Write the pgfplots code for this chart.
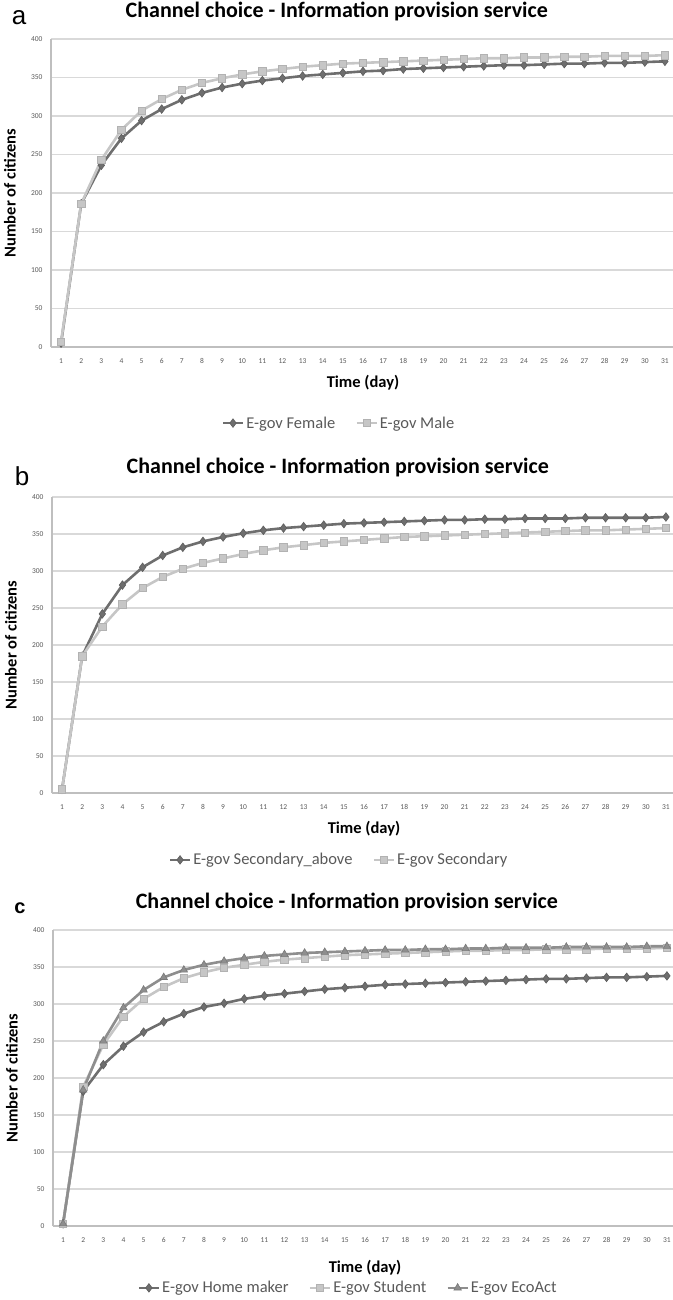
\documentclass[border=0pt]{standalone}
\usepackage{pgfplots}
\pgfplotsset{compat=1.18}
\usepackage{pgfplotstable}
\usepackage{fontspec}
\setmainfont{Carlito}
\newfontfamily\arialfont{Liberation Sans}
\definecolor{dk}{HTML}{6E6E6E}
\definecolor{lt}{HTML}{C6C6C6}
\definecolor{md}{HTML}{8E8E8E}
\definecolor{gridc}{HTML}{D9D9D9}
\definecolor{axc}{HTML}{BFBFBF}
\definecolor{txt}{HTML}{595959}

\pgfplotstableread{
day F M
1 5 7
2 186 186
3 236 243
4 271 282
5 294 307
6 309 322
7 321 334
8 330 343
9 337 349
10 342 354
11 346 358
12 349 361
13 352 364
14 354 366
15 356 368
16 358 369
17 359 370
18 361 371
19 362 372
20 363 373
21 364 374
22 365 375
23 366 375
24 366 376
25 367 376
26 368 377
27 368 377
28 369 378
29 369 378
30 370 378
31 371 379
}\tabA

\pgfplotstableread{
day A S
1 5 5
2 185 185
3 242 225
4 281 255
5 305 277
6 321 292
7 332 303
8 340 311
9 346 317
10 351 323
11 355 328
12 358 332
13 360 335
14 362 338
15 364 340
16 365 342
17 366 344
18 367 346
19 368 347
20 369 348
21 369 349
22 370 350
23 370 351
24 371 352
25 371 353
26 371 354
27 372 355
28 372 355
29 372 356
30 372 357
31 373 358
}\tabB

\pgfplotstableread{
day H S E
1 3 3 3
2 182 188 184
3 218 245 250
4 243 283 295
5 262 307 319
6 276 323 336
7 287 335 346
8 296 343 353
9 301 349 358
10 307 353 362
11 311 357 365
12 314 360 367
13 317 362 369
14 320 364 370
15 322 366 371
16 324 367 372
17 326 368 373
18 327 369 373
19 328 370 374
20 329 371 374
21 330 372 375
22 331 372 375
23 332 373 376
24 333 373 376
25 334 374 376
26 334 374 377
27 335 374 377
28 336 375 377
29 336 375 377
30 337 375 378
31 338 376 378
}\tabC

\pgfplotsset{
  panel/.style={
    scale only axis, width=624pt, height=296pt,
    xmin=0.5, xmax=31.5, ymin=0, ymax=400,
    xtick={1,...,31}, ytick={0,50,...,400},
    ymajorgrids, major grid style={gridc, line width=1.2pt},
    axis x line*=bottom, axis y line*=left,
    axis line style={-, axc, line width=1.2pt},
    major tick length=0pt,
    tick label style={font=\fontsize{7.5}{8}\selectfont, text=txt},
    /pgf/number format/assume math mode=true,
    xticklabel style={yshift=-8pt},
    yticklabel style={xshift=-5pt},
    title style={font=\fontsize{22}{24}\selectfont\bfseries, text=black, anchor=center},
    xlabel={Time (day)}, ylabel={Number of citizens},
    label style={font=\fontsize{16.5}{18}\selectfont\bfseries, text=black},
    legend style={draw=none, fill=none, legend columns=-1,
      font=\fontsize{16.5}{18}\selectfont, text=txt, anchor=center,
      /tikz/every even column/.append style={column sep=18pt}},
    legend image code/.code={\draw[mark repeat=2,mark phase=2] plot coordinates {(0pt,0pt)(10pt,0pt)(20pt,0pt)};},
    clip=false,
  },
  sdk/.style={dk, line width=2.6pt, mark=diamond*, mark size=4.3pt, mark options={fill=dk, draw=dk!85!black, line width=0.6pt}},
  slt/.style={lt, line width=2.6pt, mark=square*, mark size=3.7pt, mark options={fill=lt, draw=lt!90!black, line width=0.6pt}},
  smd/.style={md, line width=2.6pt, mark=triangle*, mark size=4.3pt, mark options={fill=md, draw=md!85!black, line width=0.6pt}},
}

\begin{document}
\begin{tikzpicture}[x=1pt,y=1pt]
\useasboundingbox (0,0) rectangle (672,-1300);

% Panel a
\begin{axis}[panel, at={(51pt,-347pt)}, anchor=south west, height=308pt,
  title={Channel choice - Information provision service},
  title style={at={(axis description cs:0.458,1.071)}},
  xlabel style={at={(axis description cs:0.5,-0.117)}, anchor=center},
  ylabel style={at={(axis description cs:-0.0657,0.5)}, anchor=center},
  legend style={at={(axis description cs:0.4615,-0.247)}},
]
\addplot[sdk] table[x=day,y=F] {\tabA};
\addlegendentry{E-gov Female}
\addplot[slt] table[x=day,y=M] {\tabA};
\addlegendentry{E-gov Male}
\node[font=\arialfont\fontsize{26}{28}\selectfont] at (axis description cs:-0.0513,1.068) {a};
\end{axis}

% Panel b
\begin{axis}[panel, at={(52pt,-793pt)}, anchor=south west,
  title={Channel choice - Information provision service},
  title style={at={(axis description cs:0.458,1.081)}},
  xlabel style={at={(axis description cs:0.5,-0.1216)}, anchor=center},
  ylabel style={at={(axis description cs:-0.0657,0.5)}, anchor=center},
  legend style={at={(axis description cs:0.46,-0.226)}},
]
\addplot[sdk] table[x=day,y=A] {\tabB};
\addlegendentry{E-gov Secondary\_above}
\addplot[slt] table[x=day,y=S] {\tabB};
\addlegendentry{E-gov Secondary}
\node[font=\arialfont\fontsize{26}{28}\selectfont] at (axis description cs:-0.048,1.071) {b};
\end{axis}

% Panel c
\begin{axis}[panel, at={(53pt,-1226pt)}, anchor=south west,
  title={Channel choice - Information provision service},
  title style={at={(axis description cs:0.471,1.074)}},
  xlabel style={at={(axis description cs:0.5,-0.142)}, anchor=center},
  ylabel style={at={(axis description cs:-0.0657,0.5)}, anchor=center},
  legend style={at={(axis description cs:0.473,-0.209)}},
]
\addplot[sdk] table[x=day,y=H] {\tabC};
\addlegendentry{E-gov Home maker}
\addplot[slt] table[x=day,y=S] {\tabC};
\addlegendentry{E-gov Student}
\addplot[smd] table[x=day,y=E] {\tabC};
\addlegendentry{E-gov EcoAct}
\node[font=\arialfont\bfseries\fontsize{20}{22}\selectfont] at (axis description cs:-0.053,1.074) {c};
\end{axis}
\end{tikzpicture}
\end{document}
